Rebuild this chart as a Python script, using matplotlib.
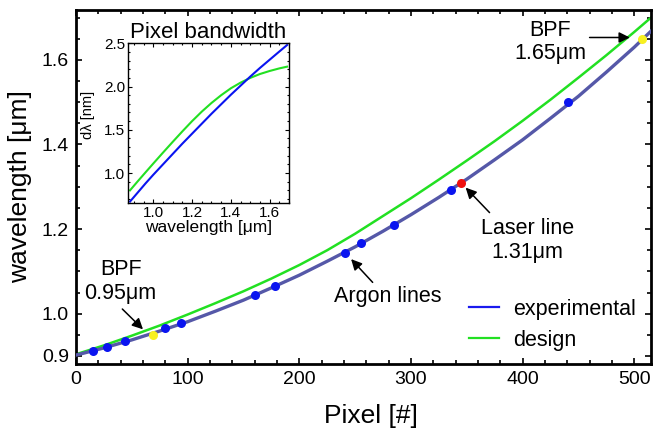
import matplotlib
matplotlib.use("Agg")
import matplotlib.pyplot as plt
from matplotlib.lines import Line2D
from matplotlib.ticker import MultipleLocator, FixedLocator

plt.rcParams['font.family'] = ['Liberation Sans', 'DejaVu Sans']

# calibration curves: pixel -> wavelength [um]
pixel_grid = [0, 25, 50, 75, 100, 125, 150, 175, 200, 225, 250, 275, 300,
              325, 350, 375, 400, 425, 450, 475, 500, 515]
exp_curve = [0.902, 0.919, 0.938, 0.959, 0.981, 1.006, 1.032, 1.061, 1.091, 1.124, 1.158,
             1.195, 1.234, 1.275, 1.318, 1.364, 1.411, 1.462, 1.514, 1.571, 1.630, 1.668]
design_curve = [0.904, 0.925, 0.948, 0.972, 0.998, 1.025, 1.053, 1.083, 1.115, 1.150, 1.189,
                1.231, 1.273, 1.317, 1.362, 1.408, 1.456, 1.506, 1.558, 1.611, 1.666, 1.700]

# reference lines
argon_px = [15, 28, 44, 80, 94, 160, 178, 241, 255, 285, 336, 441]
argon_wl = [0.911, 0.922, 0.935, 0.965, 0.977, 1.045, 1.066, 1.144, 1.166, 1.209, 1.292, 1.4995]
bpf_px = [69, 507]
bpf_wl = [0.95, 1.65]
laser_px = [345]
laser_wl = [1.31]

# pixel bandwidth vs wavelength
bw_wl = [0.88, 0.92, 0.96, 1.0, 1.05, 1.1, 1.15, 1.2, 1.25, 1.3, 1.35, 1.4, 1.45,
         1.5, 1.55, 1.6, 1.65, 1.69]
bw_exp = [0.67, 0.775, 0.88, 0.98, 1.10, 1.22, 1.34, 1.455, 1.57, 1.685, 1.795, 1.905,
          2.01, 2.115, 2.215, 2.31, 2.405, 2.48]
bw_design = [0.80, 0.905, 1.008, 1.11, 1.236, 1.36, 1.482, 1.60, 1.71, 1.81, 1.90, 1.98,
             2.045, 2.10, 2.145, 2.18, 2.21, 2.23]

fig = plt.figure(figsize=(6.54, 4.29), dpi=100)
ax = fig.add_axes([0.1162, 0.1515, 0.8792, 0.8252])

ax.plot(pixel_grid, design_curve, color='#22e022', lw=1.8, zorder=2)
ax.plot(pixel_grid, exp_curve, color='#5558a8', lw=2.4, zorder=3)
ax.plot(argon_px, argon_wl, 'o', color='#0a14f0', ms=6.5, mew=0, zorder=4)
ax.plot(bpf_px, bpf_wl, 'o', color='#f8f020', ms=6.5, mew=0, zorder=4)
ax.plot(laser_px, laser_wl, 'o', color='#f01010', ms=6.5, mew=0, zorder=4)

ax.set_xlim(0, 515)
ax.set_ylim(0.881, 1.718)
ax.xaxis.set_major_locator(MultipleLocator(100))
ax.xaxis.set_minor_locator(MultipleLocator(20))
ax.yaxis.set_major_locator(FixedLocator([0.9, 1.0, 1.2, 1.4, 1.6]))
ax.yaxis.set_minor_locator(MultipleLocator(0.05))
ax.tick_params(which='both', direction='in', top=True, right=True, labelsize=14, width=1.2)
ax.tick_params(which='major', length=4.5, pad=5)
ax.tick_params(which='minor', length=2.8)
for s in ax.spines.values():
    s.set_linewidth(2.0)
ax.set_xlabel('Pixel [#]', fontsize=19)
ax.xaxis.set_label_coords(0.513, -0.113)
ax.set_ylabel('wavelength [μm]', fontsize=19, labelpad=7)

arrow = dict(arrowstyle='-|>', color='k', lw=1.1, mutation_scale=16, shrinkA=0, shrinkB=0)
ax.annotate('', xy=(60, 0.963), xytext=(41.5, 1.011), arrowprops=arrow)
ax.text(40, 1.076, 'BPF\n0.95μm', ha='center', va='center', fontsize=15.5, linespacing=1.15)
ax.annotate('', xy=(496, 1.653), xytext=(460, 1.653), arrowprops=arrow)
ax.text(425, 1.642, 'BPF\n1.65μm', ha='center', va='center', fontsize=15.5, linespacing=1.15)
ax.annotate('', xy=(349, 1.298), xytext=(370.4, 1.239), arrowprops=arrow)
ax.text(404.5, 1.173, 'Laser line\n1.31μm', ha='center', va='center', fontsize=15.5, linespacing=1.15)
ax.annotate('', xy=(246.4, 1.129), xytext=(265.7, 1.074), arrowprops=arrow)
ax.text(279, 1.040, 'Argon lines', ha='center', va='center', fontsize=15.5)

handles = [Line2D([], [], color='#1a1aee', lw=1.6),
           Line2D([], [], color='#22e022', lw=1.6)]
ax.legend(handles, ['experimental', 'design'], loc='lower right', frameon=False,
          fontsize=15.5, handlelength=1.4, handletextpad=0.65, labelspacing=0.45,
          bbox_to_anchor=(1.0, -0.005), borderaxespad=0.3)

# inset: pixel bandwidth
ins = fig.add_axes([0.1953, 0.5268, 0.2466, 0.3722])
ins.plot(bw_wl, bw_design, color='#22e022', lw=1.5)
ins.plot(bw_wl, bw_exp, color='#0a14f0', lw=1.5)
ins.set_xlim(0.868, 1.70)
ins.set_ylim(0.653, 2.5)
ins.xaxis.set_major_locator(MultipleLocator(0.2))
ins.xaxis.set_minor_locator(MultipleLocator(0.05))
ins.yaxis.set_major_locator(MultipleLocator(0.5))
ins.yaxis.set_minor_locator(MultipleLocator(0.1))
ins.tick_params(which='both', direction='in', top=True, right=True, labelsize=11, width=0.8)
ins.tick_params(which='major', length=3, pad=2)
ins.tick_params(which='minor', length=1.6)
for s in ins.spines.values():
    s.set_linewidth(1.0)
ins.set_title('Pixel bandwidth', fontsize=16, pad=2)
ins.set_xlabel('wavelength [μm]', fontsize=12.5, labelpad=0)
ins.set_ylabel('dλ [nm]', fontsize=10.5)
ins.yaxis.set_label_coords(-0.205, 0.551)

fig.savefig('out.png', dpi=100)
